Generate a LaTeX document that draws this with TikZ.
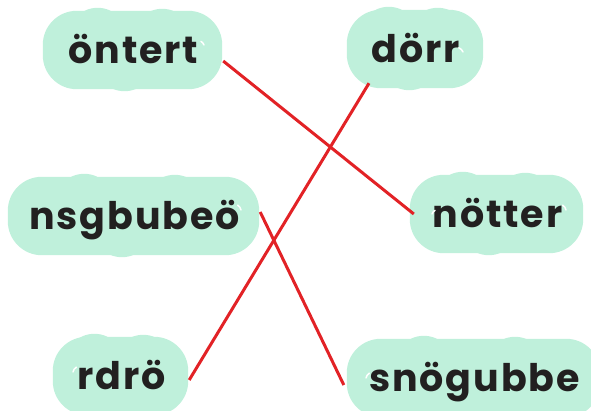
\documentclass[tikz,border=0pt]{standalone}
\usepackage{fontspec}
\setmainfont{Poppins}[LetterSpace=5]
\usetikzlibrary{backgrounds,calc}
\definecolor{mint}{HTML}{BFF0DB}
\definecolor{lred}{HTML}{E22226}
\definecolor{ink}{HTML}{222020}
\begin{document}
\begin{tikzpicture}[x=1pt,y=-1pt,
  word/.style={minimum height=78pt, text height=34pt, text depth=8pt, inner sep=0pt,
    font=\fontsize{38}{42}\selectfont\bfseries, text=ink},
  link/.style={lred, line width=3pt},
  gloss/.style={white, line width=1.5pt, line cap=round}]
\useasboundingbox (0,0) rectangle (591,410);
\node[word, minimum width=179pt] (ontert) at (133.5,50) {öntert};
\node[word, minimum width=136pt] (dorr) at (416,49) {dörr};
\node[word, minimum width=251pt] (nsgbubeo) at (134.5,216) {nsgbubeö};
\node[word, minimum width=173pt] (notter) at (497.5,214) {nötter};
\node[word, minimum width=135pt] (rdro) at (121.5,376) {rdrö};
\node[word, minimum width=253pt] (snogubbe) at (474.5,378) {snögubbe};
\begin{pgfonlayer}{background}
\foreach \n in {ontert,dorr,nsgbubeo,notter,rdro,snogubbe}{
  \fill[mint, rounded corners=34pt] ([xshift=-1pt]\n.south west) rectangle ([xshift=-1pt]\n.north east);
  \fill[mint] ($(\n.north west)!0.3!(\n.north east)+(0,27)$) circle (30pt);
  \fill[mint] ($(\n.north west)!0.66!(\n.north east)+(0,28)$) circle (30pt);
  \fill[mint] ($(\n.south west)!0.45!(\n.south east)+(0,-28)$) circle (30pt);
}
\end{pgfonlayer}
\draw[gloss] (204,45) arc (-20:-60:7);
\draw[gloss] (463,52) arc (-20:-70:7);
\draw[gloss] (566,210) arc (-10:-60:7);
\draw[gloss] (432,214) arc (200:240:7);
\draw[gloss] (241,210) arc (-10:-60:7);
\draw[gloss] (73,372) arc (190:240:7);
\draw[gloss] (366,378) arc (190:240:7);
\draw[link] ([yshift=-11pt]ontert.east) -- ([xshift=3pt]notter.west);
\draw[link] ([xshift=-47pt,yshift=5pt]dorr.south) -- ([yshift=-4pt]rdro.east);
\draw[link] ([yshift=4pt]nsgbubeo.east) -- ([xshift=-4pt,yshift=-7pt]snogubbe.west);
\end{tikzpicture}
\end{document}
